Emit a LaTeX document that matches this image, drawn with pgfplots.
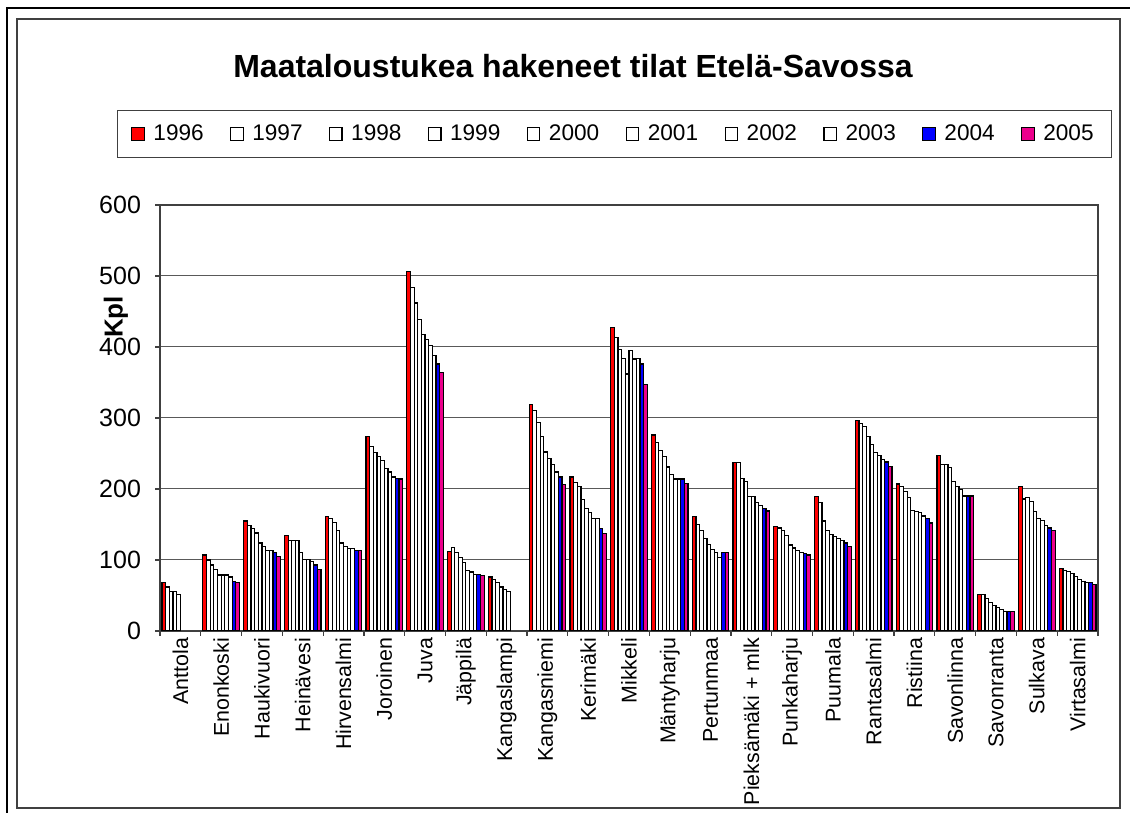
\documentclass[border=0pt]{standalone}
\usepackage{fontspec}
\setmainfont{Liberation Sans}
\usepackage{pgfplots}
\usepackage{pgfplotstable}
\pgfplotsset{compat=1.18}

% maatalous­tukea hakeneet tilat kunnittain, 1996-2005
\pgfplotstableread{
x  y96 y97 y98 y99 y00 y01 y02 y03 y04 y05
0  68  62  56  56  51  nan nan nan nan nan
1  107 100 93  87  79  79  79  76  70  68
2  155 149 144 138 124 119 113 113 110 105
3  135 127 127 127 110 101 101 98  93  87
4  161 158 153 141 124 119 116 116 113 113
5  274 260 251 246 240 229 224 217 215 214
6  506 484 462 439 418 410 402 388 376 364
7  112 118 110 104 96  85  83  80  80  78
8  76  72  68  62  59  56  nan nan nan nan
9  319 311 294 274 252 243 234 224 217 206
10 217 209 203 185 173 167 158 158 144 137
11 427 413 396 384 362 395 383 384 376 347
12 276 265 254 246 231 220 214 214 214 208
13 161 150 141 130 122 115 110 104 110 110
14 237 237 215 211 189 189 181 177 173 169
15 147 145 141 134 121 117 113 111 109 107
16 189 181 155 141 136 133 130 127 124 119
17 297 292 288 274 263 251 247 241 238 232
18 207 204 196 188 170 168 167 162 158 152
19 247 235 235 230 210 204 199 190 190 190
20 51  51  46  40  36  33  30  28  28  28
21 204 186 188 182 168 159 156 149 145 141
22 88  85  84  81  77  73  70  68  68  65
}\tilat

\begin{document}
\begin{tikzpicture}
\useasboundingbox (0,0) rectangle (565pt,406.5pt);
\draw[line width=1pt] (3.5pt,0) -- (3.5pt,402.5pt) -- (565pt,402.5pt);
\draw[black!75, line width=0.75pt] (8.5pt,2.5pt) rectangle (560pt,397pt);
\node[font=\bfseries\fontsize{16}{19}\selectfont] at (286.5pt,373.5pt)
  {Maataloustukea hakeneet tilat Etelä-Savossa};
\node[font=\bfseries\fontsize{13}{15}\selectfont, rotate=90] at (58pt,248pt) {Kpl};

\begin{axis}[
  at={(80pt,91pt)}, anchor=south west,
  width=469pt, height=213pt, scale only axis,
  xmin=-0.5, xmax=22.5, ymin=0, ymax=600,
  ybar=0pt, bar width=1.83pt,
  ytick={0,100,...,600},
  ymajorgrids, grid style={black!65, line width=0.5pt},
  xtick={-0.5,0.5,...,22.5}, xticklabels={},
  extra x ticks={0,1,...,22},
  extra x tick labels={Anttola,Enonkoski,Haukivuori,Heinävesi,Hirvensalmi,Joroinen,Juva,Jäppilä,Kangaslampi,Kangasniemi,Kerimäki,Mikkeli,Mäntyharju,Pertunmaa,Pieksämäki + mlk,Punkaharju,Puumala,Rantasalmi,Ristiina,Savonlinna,Savonranta,Sulkava,Virtasalmi},
  extra x tick style={major tick length=0pt, grid=none,
    tick label style={rotate=90, anchor=east, font=\fontsize{10.7}{12}\selectfont}},
  tick pos=left, tick align=outside, major tick length=2.5pt,
  tick style={black!75, line width=0.6pt},
  axis line style={black!75, line width=0.8pt},
  yticklabel style={font=\fontsize{12.5}{14}\selectfont, xshift=-3.5pt},
  /pgf/number format/assume math mode=true,
  legend columns=10,
  legend style={at={(0.4845,1.1667)}, anchor=center, draw=black!75, line width=0.75pt,
    font=\fontsize{11.3}{13}\selectfont, inner xsep=7pt, inner ysep=5pt,
    /tikz/every odd column/.append style={column sep=2.3pt},
    /tikz/every even column/.append style={column sep=11.2pt}},
  every axis plot post/.append style={draw=black, line width=0.6pt,
    legend image code/.code={\draw[##1, line width=0.6pt] (0pt,-3.2pt) rectangle (6.2pt,3.2pt);}},
]
\addplot[fill=red] table[x=x, y=y96] {\tilat};
\addplot[fill=white] table[x=x, y=y97] {\tilat};
\addplot[fill=white] table[x=x, y=y98] {\tilat};
\addplot[fill=white] table[x=x, y=y99] {\tilat};
\addplot[fill=white] table[x=x, y=y00] {\tilat};
\addplot[fill=white] table[x=x, y=y01] {\tilat};
\addplot[fill=white] table[x=x, y=y02] {\tilat};
\addplot[fill=white] table[x=x, y=y03] {\tilat};
\addplot[fill=blue] table[x=x, y=y04] {\tilat};
\addplot[fill=magenta] table[x=x, y=y05] {\tilat};
\legend{1996,1997,1998,1999,2000,2001,2002,2003,2004,2005}
\end{axis}
\end{tikzpicture}
\end{document}
